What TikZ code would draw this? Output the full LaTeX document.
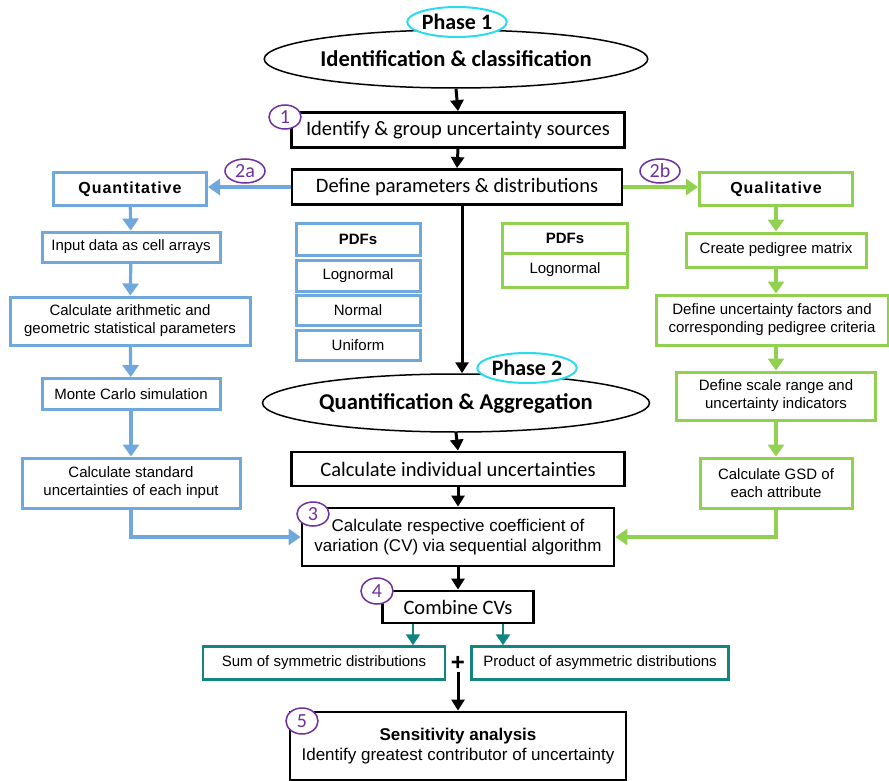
\documentclass[tikz,border=0pt]{standalone}
\usepackage{fontspec}
\setmainfont{Liberation Sans}
\newfontfamily\calibri{Carlito}
\newfontfamily\spacedsans[LetterSpace=6]{Liberation Sans}
\usetikzlibrary{shapes.geometric,arrows.meta}
\definecolor{qblue}{RGB}{111,168,220}
\definecolor{qgreen}{RGB}{146,208,80}
\definecolor{qteal}{RGB}{18,133,130}
\definecolor{qpurple}{RGB}{112,48,160}
\definecolor{qcyan}{RGB}{40,220,235}

\begin{document}
\begin{tikzpicture}[x=1pt,y=-1pt,
    every node/.style={inner sep=0pt,align=center},
    mainbox/.style={draw,line width=2.8pt,font=\calibri\fontsize{20.5}{24}\selectfont},
    textbox/.style={draw,line width=2.8pt,font=\fontsize{17}{20}\selectfont},
    bluebox/.style={draw=qblue,line width=3pt,font=\fontsize{15}{18}\selectfont},
    greenbox/.style={draw=qgreen,line width=3pt,font=\fontsize{15}{18}\selectfont},
    tealbox/.style={draw=qteal,line width=2.5pt,font=\fontsize{15}{18}\selectfont},
    stage/.style={draw,ellipse,line width=1.5pt,fill=white,font=\calibri\bfseries\fontsize{22.6}{26}\selectfont},
    phase/.style={draw=qcyan,ellipse,line width=2pt,fill=white,font=\calibri\bfseries\fontsize{22}{26}\selectfont},
    stepno/.style={draw=qpurple,ellipse,line width=1.5pt,fill=white,text=qpurple,font=\calibri\fontsize{20}{24}\selectfont},
    heading/.style={font=\spacedsans\bfseries\fontsize{16}{19}\selectfont},
    blackarrow/.style={-{Triangle[width=13pt,length=11pt]},line width=3pt},
    bluearrow/.style={-{Triangle[width=16pt,length=12pt]},draw=qblue,line width=3.2pt},
    greenarrow/.style={-{Triangle[width=16pt,length=12pt]},draw=qgreen,line width=3.2pt},
    tealarrow/.style={-{Triangle[width=14pt,length=11pt]},draw=qteal,line width=2.8pt}]

\useasboundingbox (0,0) rectangle (889,781);

\node[stage,minimum width=332pt,minimum height=58pt] (idclass) at (456,59) {Identification \& classification};
\node[phase,minimum width=96pt,minimum height=30pt] (phase1) at (457,22) {Phase 1};
\node[mainbox,minimum width=333pt,minimum height=35pt] (ident) at (458,130) {Identify \& group uncertainty sources};
\node[stepno,minimum width=32pt,minimum height=24pt] (num1) at (285,117) {1};
\node[mainbox,minimum width=330pt,minimum height=35pt] (define) at (457,187) {Define parameters \& distributions};
\node[stepno,minimum width=40pt,minimum height=24pt] (num2a) at (245,171) {2a};
\node[stepno,minimum width=40pt,minimum height=24pt] (num2b) at (660,171) {2b};

\node[bluebox,heading,minimum width=153pt,minimum height=32pt] (quant) at (130,189) {Quantitative};
\node[bluebox,minimum width=178pt,minimum height=30pt] (input) at (131,247) {Input data as cell arrays};
\node[bluebox,minimum width=240pt,minimum height=48pt] (arith) at (130,321) {Calculate arithmetic and\\geometric statistical parameters};
\node[bluebox,minimum width=178pt,minimum height=31pt] (monte) at (131,394) {Monte Carlo simulation};
\node[bluebox,minimum width=218pt,minimum height=50pt] (stdunc) at (131,483) {Calculate standard\\uncertainties of each input};

\node[bluebox,font=\bfseries\fontsize{15}{18}\selectfont,minimum width=124pt,minimum height=32pt] (bpdfs) at (358,239) {PDFs};
\node[bluebox,minimum width=124pt,minimum height=31pt] (blogn) at (358,276) {Lognormal};
\node[bluebox,minimum width=124pt,minimum height=30pt] (bnorm) at (358,310) {Normal};
\node[bluebox,minimum width=124pt,minimum height=30pt] (bunif) at (358,345) {Uniform};
\node[greenbox,font=\bfseries\fontsize{15}{18}\selectfont,minimum width=125pt,minimum height=30pt] (gpdfs) at (565,238) {PDFs};
\node[greenbox,minimum width=125pt,minimum height=34pt] (glogn) at (565,270) {Lognormal};

\node[greenbox,heading,minimum width=153pt,minimum height=33pt] (qual) at (776,189) {Qualitative};
\node[greenbox,minimum width=180pt,minimum height=34pt] (pedigree) at (776,250) {Create pedigree matrix};
\node[greenbox,minimum width=232pt,minimum height=50pt] (factors) at (772,320) {Define uncertainty factors and\\corresponding pedigree criteria};
\node[greenbox,minimum width=199pt,minimum height=48pt] (scale) at (776,396) {Define scale range and\\uncertainty indicators};
\node[greenbox,minimum width=152pt,minimum height=50pt] (gsd) at (776,483) {Calculate GSD of\\each attribute};

\node[stage,minimum width=332pt,minimum height=58pt] (quantagg) at (456,403) {Quantification \& Aggregation};
\node[phase,minimum width=98pt,minimum height=30pt] (phase2) at (527,368) {Phase 2};
\node[mainbox,minimum width=333pt,minimum height=34pt] (indiv) at (458,469) {Calculate individual uncertainties};
\node[textbox,minimum width=312pt,minimum height=58pt] (cv) at (458,537) {Calculate respective coefficient of\\variation (CV) via sequential algorithm};
\node[stepno,minimum width=32pt,minimum height=24pt] (num3) at (313,514) {3};
\node[mainbox,minimum width=151pt,minimum height=32pt] (combine) at (458,607) {Combine CVs};
\node[stepno,minimum width=32pt,minimum height=26pt] (num4) at (377,591) {4};
\node[tealbox,minimum width=242pt,minimum height=33pt] (sum) at (324,663) {Sum of symmetric distributions};
\node[font=\bfseries\fontsize{24}{24}\selectfont,inner sep=2pt] (plus) at (458,663) {+};
\node[tealbox,minimum width=257pt,minimum height=33pt] (product) at (600,663) {Product of asymmetric distributions};
\node[textbox,minimum width=336pt,minimum height=68pt] (sens) at (458,746) {\textbf{Sensitivity analysis}\\Identify greatest contributor of uncertainty};
\node[stepno,minimum width=32pt,minimum height=26pt] (num5) at (302,721) {5};

\draw[blackarrow] (idclass.south) -- (ident.north);
\draw[blackarrow] (ident.south) -- (define.north);
\draw[blackarrow] ([xshift=5pt]define.south) -- ([xshift=6pt]quantagg.north);
\draw[blackarrow] (quantagg.south) -- (indiv.north);
\draw[blackarrow] (indiv.south) -- (cv.north);
\draw[blackarrow] (cv.south) -- (combine.north);
\draw[blackarrow] (plus.south) -- (plus.south |- sens.north);

\draw[bluearrow] (define.west) -- (define.west -| quant.east);
\draw[bluearrow] (quant) -- (input);
\draw[bluearrow] (input) -- (arith);
\draw[bluearrow] (arith) -- (monte);
\draw[bluearrow] (monte) -- (stdunc);
\draw[bluearrow] (stdunc.south) |- (cv.west);

\draw[greenarrow] (define.east) -- (define.east -| qual.west);
\draw[greenarrow] (qual) -- (pedigree);
\draw[greenarrow] (pedigree) -- ([xshift=4pt]factors.north);
\draw[greenarrow] ([xshift=4pt]factors.south) -- (scale);
\draw[greenarrow] (scale) -- (gsd);
\draw[greenarrow] (gsd.south) |- (cv.east);

\draw[tealarrow] ([xshift=-45pt]combine.south) -- ([xshift=-45pt]combine.south |- sum.north);
\draw[tealarrow] ([xshift=45pt]combine.south) -- ([xshift=45pt]combine.south |- product.north);

\end{tikzpicture}
\end{document}
